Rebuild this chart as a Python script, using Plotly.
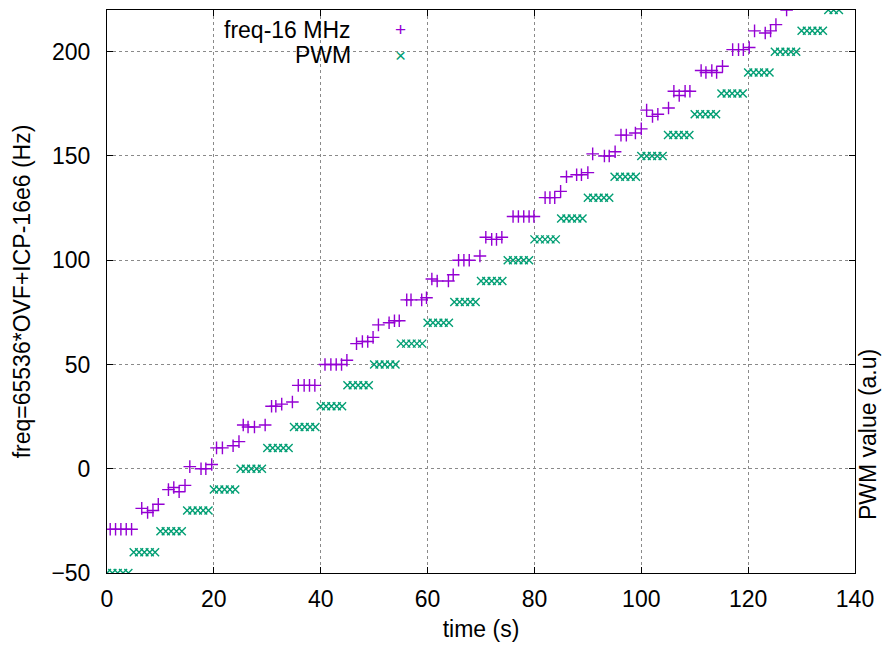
import plotly.graph_objects as go

# ---------------- data ----------------
freq_time = [
    0.6, 1.6, 2.6, 3.6, 4.6,
    6.5, 7.6, 8.6, 9.6,
    11.5, 12.5, 13.5, 14.6,
    15.5, 17.6, 18.5, 19.6,
    20.5, 21.6, 23.6, 24.7,
    25.5, 26.4, 27.6, 29.6,
    30.8, 31.6, 32.7, 34.7,
    35.8, 36.9, 37.9, 38.9,
    40.8, 41.9, 42.9, 43.9, 44.9,
    46.7, 47.8, 48.8, 49.8,
    50.8, 52.8, 53.8, 54.7,
    56.1, 56.9, 58.9, 59.8,
    60.8, 61.8, 63.9, 64.8,
    65.8, 66.8, 67.8, 69.8,
    70.9, 72.0, 72.9, 73.9,
    76.0, 77.0, 78.0, 79.0, 79.9,
    82.0, 82.9, 83.8, 84.9,
    86.0, 87.9, 88.8, 90.0,
    90.9, 93.1, 94.0, 95.1,
    96.2, 97.2, 98.9, 100.0,
    101.0, 102.1, 103.1, 105.1,
    106.1, 107.1, 108.2, 109.1,
    111.2, 112.1, 113.2, 114.1, 115.2,
    117.1, 118.2, 119.1, 120.2,
    121.2, 123.2, 124.2, 125.2,
    127.2,
]
freq_value = [
    -29, -29, -29, -29, -29,
    -19, -21, -20, -17,
    -10, -9, -11, -8,
    1, 0, 0, 2,
    10, 10, 11, 13,
    21, 20, 20, 21,
    30, 30, 31, 32,
    40, 40, 40, 40,
    50, 50, 50, 50, 52,
    60, 61, 61, 63,
    69, 70, 71, 71,
    81, 81, 81, 82,
    91, 90, 90, 93,
    100, 100, 100, 102,
    111, 110, 110, 111,
    121, 121, 121, 121, 121,
    130, 130, 130, 133,
    140, 141, 141, 142,
    151, 150, 150, 152,
    160, 160, 161, 163,
    172, 169, 170, 173,
    181, 179, 181, 181,
    191, 190, 191, 190, 193,
    201, 201, 201, 202,
    210, 209, 210, 213,
    220,
]

pwm_time = [
    0, 1, 2, 3, 4,
    5, 6, 7, 8, 9,
    10, 11, 12, 13, 14,
    15, 16, 17, 18, 19,
    20, 21, 22, 23, 24,
    25, 26, 27, 28, 29,
    30, 31, 32, 33, 34,
    35, 36, 37, 38, 39,
    40, 41, 42, 43, 44,
    45, 46, 47, 48, 49,
    50, 51, 52, 53, 54,
    55, 56, 57, 58, 59,
    60, 61, 62, 63, 64,
    65, 66, 67, 68, 69,
    70, 71, 72, 73, 74,
    75, 76, 77, 78, 79,
    80, 81, 82, 83, 84,
    85, 86, 87, 88, 89,
    90, 91, 92, 93, 94,
    95, 96, 97, 98, 99,
    100, 101, 102, 103, 104,
    105, 106, 107, 108, 109,
    110, 111, 112, 113, 114,
    115, 116, 117, 118, 119,
    120, 121, 122, 123, 124,
    125, 126, 127, 128, 129,
    130, 131, 132, 133, 134,
    135, 136, 137,
]
pwm_value = [
    -50, -50, -50, -50, -50,
    -40, -40, -40, -40, -40,
    -30, -30, -30, -30, -30,
    -20, -20, -20, -20, -20,
    -10, -10, -10, -10, -10,
    0, 0, 0, 0, 0,
    10, 10, 10, 10, 10,
    20, 20, 20, 20, 20,
    30, 30, 30, 30, 30,
    40, 40, 40, 40, 40,
    50, 50, 50, 50, 50,
    60, 60, 60, 60, 60,
    70, 70, 70, 70, 70,
    80, 80, 80, 80, 80,
    90, 90, 90, 90, 90,
    100, 100, 100, 100, 100,
    110, 110, 110, 110, 110,
    120, 120, 120, 120, 120,
    130, 130, 130, 130, 130,
    140, 140, 140, 140, 140,
    150, 150, 150, 150, 150,
    160, 160, 160, 160, 160,
    170, 170, 170, 170, 170,
    180, 180, 180, 180, 180,
    190, 190, 190, 190, 190,
    200, 200, 200, 200, 200,
    210, 210, 210, 210, 210,
    220, 220, 220,
]

x_ticks = [0, 20, 40, 60, 80, 100, 120, 140]
y_ticks = [-50, 0, 50, 100, 150, 200]

x_title = "time (s)"
y_title = "freq=65536*OVF+ICP-16e6 (Hz)"
y2_title = "PWM value (a.u)"
freq_name = "freq-16 MHz"
pwm_name = "PWM"

# ---------------- styling ----------------
FONT = "Liberation Sans, Arial, Helvetica, sans-serif"
FS = 23
PURPLE = "#9400d3"
GREEN = "#009e73"

fig = go.Figure()
fig.add_trace(go.Scatter(
    x=freq_time, y=freq_value, mode="markers", name=freq_name,
    marker=dict(symbol="cross-thin", size=9, color=PURPLE,
                line=dict(width=1.4, color=PURPLE)),
    showlegend=False,
))
fig.add_trace(go.Scatter(
    x=pwm_time, y=pwm_value, mode="markers", name=pwm_name,
    marker=dict(symbol="x-thin", size=8, color=GREEN,
                line=dict(width=1.4, color=GREEN)),
    showlegend=False,
))

axis_common = dict(
    ticks="inside", ticklen=6, tickwidth=1, tickcolor="black",
    showline=True, linecolor="black", linewidth=1, mirror="ticks",
    showgrid=True, gridcolor="#8a8a8a", gridwidth=1, griddash="dot",
    zeroline=False,
    tickfont=dict(family=FONT, size=FS, color="black"),
)

fig.update_layout(
    width=886, height=646,
    margin=dict(l=107, r=31, t=10, b=73, autoexpand=False),
    paper_bgcolor="white", plot_bgcolor="white",
    font=dict(family=FONT, size=FS, color="black"),
    xaxis=dict(range=[0, 140], tickvals=x_ticks, ticklabelstandoff=5,
               title=dict(text=x_title, font=dict(family=FONT, size=FS), standoff=10),
               **axis_common),
    yaxis=dict(range=[-50, 220], tickvals=y_ticks, ticklabelstandoff=11,
               title=dict(text=y_title, font=dict(family=FONT, size=FS), standoff=14),
               **axis_common),
    shapes=[dict(type="rect", xref="x", yref="y", x0=0, x1=140, y0=193, y1=220,
                 fillcolor="white", line=dict(width=0), layer="below")],
    annotations=[
        dict(text=freq_name, xref="paper", yref="paper", x=0.329, y=0.965,
             xanchor="right", yanchor="middle", showarrow=False,
             font=dict(family=FONT, size=FS, color="black")),
        dict(text=pwm_name, xref="paper", yref="paper", x=0.329, y=0.920,
             xanchor="right", yanchor="middle", showarrow=False,
             font=dict(family=FONT, size=FS, color="black")),
        dict(text="+", xref="paper", yref="paper", x=0.393, y=0.965,
             xanchor="center", yanchor="middle", showarrow=False,
             font=dict(family=FONT, size=19, color=PURPLE)),
        dict(text="×", xref="paper", yref="paper", x=0.393, y=0.920,
             xanchor="center", yanchor="middle", showarrow=False,
             font=dict(family=FONT, size=19, color=GREEN)),
        dict(text=y2_title, xref="paper", yref="paper", x=1.0174, y=0.245,
             xanchor="center", yanchor="middle", textangle=-90, showarrow=False,
             font=dict(family=FONT, size=FS, color="black")),
    ],
)

fig.write_html("out.html",
               config={"displayModeBar": False},
               post_script="document.body.style.margin='0px';")
